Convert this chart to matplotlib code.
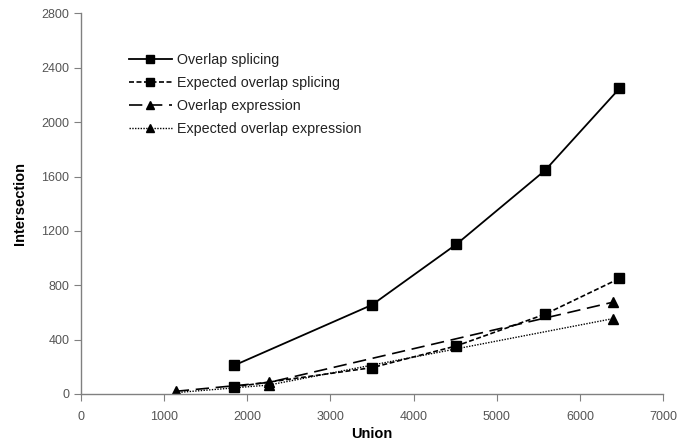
import matplotlib
matplotlib.use("Agg")
import matplotlib.pyplot as plt

plt.rcParams['font.family'] = ['Liberation Sans', 'DejaVu Sans']

# Union size (x) and intersection size (y) for each comparison
splice_union = [1840, 3500, 4515, 5580, 6475]
overlap_splicing = [210, 656, 1102, 1645, 2248]
expected_overlap_splicing = [52, 194, 354, 587, 850]

expr_union = [1140, 2260, 6400]
overlap_expression = [20, 85, 676]
expected_overlap_expression = [10, 66, 555]

x_ticks = [0, 1000, 2000, 3000, 4000, 5000, 6000, 7000]
y_ticks = [0, 400, 800, 1200, 1600, 2000, 2400, 2800]

fig = plt.figure(figsize=(6.78, 4.42), dpi=100)
ax = fig.add_axes([0.1195, 0.1086, 0.8585, 0.8609])

ax.plot(splice_union, overlap_splicing, color='black', lw=1.3, ls='-',
        marker='s', ms=7, label='Overlap splicing')
ax.plot(splice_union, expected_overlap_splicing, color='black', lw=1.2,
        ls=(0, (3, 1.5)), marker='s', ms=7, label='Expected overlap splicing')
ax.plot(expr_union, overlap_expression, color='black', lw=1.2,
        ls=(0, (8, 4)), marker='^', ms=7, label='Overlap expression')
ax.plot(expr_union, expected_overlap_expression, color='black', lw=1.0,
        ls=(0, (1, 1)), marker='^', ms=7, label='Expected overlap expression')

ax.set_xlim(0, 7000)
ax.set_ylim(0, 2800)
ax.set_xticks(x_ticks)
ax.set_yticks(y_ticks)

for side in ('top', 'right'):
    ax.spines[side].set_visible(False)
for side in ('left', 'bottom'):
    ax.spines[side].set_color('#808080')
    ax.spines[side].set_linewidth(1.0)

ax.tick_params(axis='both', direction='out', length=5, color='#808080',
               labelsize=9, labelcolor='#555555')
ax.tick_params(axis='x', pad=7)

ax.set_xlabel('Union', fontsize=10.5, fontweight='bold', labelpad=3)
ax.set_ylabel('Intersection', fontsize=10.5, fontweight='bold', labelpad=10)

leg = ax.legend(loc='upper left', bbox_to_anchor=(0.06, 0.93), frameon=False,
                fontsize=10.3, handlelength=3.0, handletextpad=0.35,
                labelspacing=0.62, markerscale=0.85)
for txt in leg.get_texts():
    txt.set_color('#222222')

fig.savefig('out.png', dpi=100)
